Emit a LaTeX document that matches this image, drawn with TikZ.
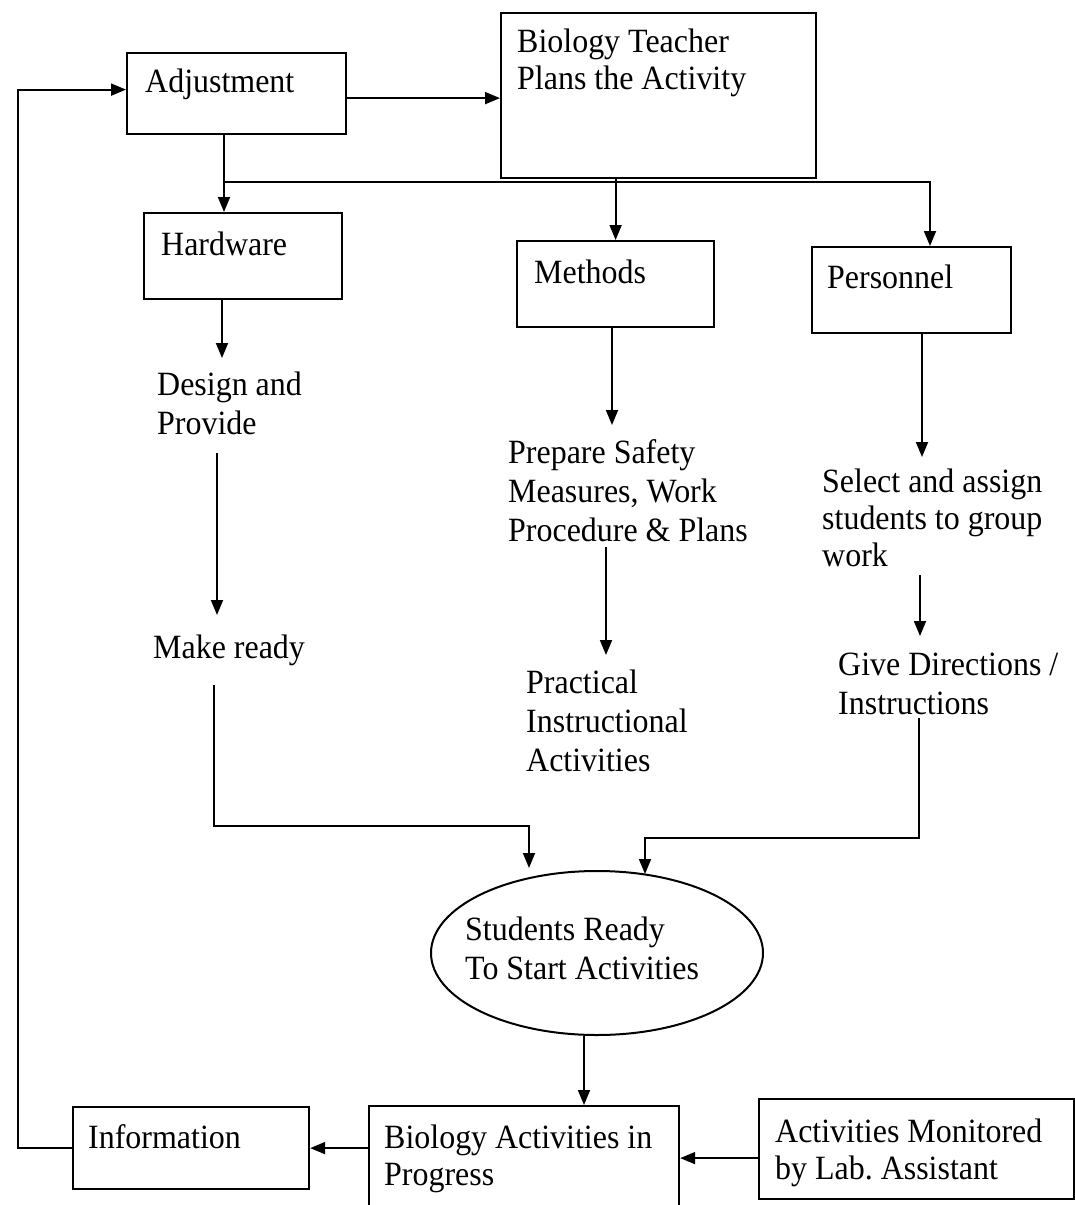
\documentclass[tikz,border=0pt]{standalone}
\usepackage{fontspec}
\setmainfont{Liberation Serif}[FakeStretch=0.94]
\usetikzlibrary{arrows.meta,shapes.geometric}
\newcommand\mlines[1]{\vtop{\halign{##\hfil\cr#1\crcr}}}
\tikzset{
  box/.style={draw, line width=2.2pt, inner sep=0pt, anchor=north west},
  txt/.style={anchor=base west, inner sep=0pt, font=\fontsize{34}{39}\selectfont},
  tight/.style={font=\fontsize{34}{37}\selectfont},
  arr/.style={line width=1.8pt, -{Triangle[length=15pt,width=12pt]}},
  ln/.style={line width=1.8pt}
}
\begin{document}
\begin{tikzpicture}[x=1pt,y=-1pt]
\fill[white] (0,0) rectangle (1075,1205);
\useasboundingbox (0,0) rectangle (1075,1205);

% boxes
\node[box, minimum width=219pt, minimum height=81pt] (adj) at (126,52) {};
\node[box, minimum width=315pt, minimum height=165pt] (teach) at (500,12) {};
\node[box, minimum width=198pt, minimum height=86pt] (hw) at (143,212) {};
\node[box, minimum width=197pt, minimum height=86pt] (meth) at (516,240) {};
\node[box, minimum width=199pt, minimum height=86pt] (pers) at (811,246) {};
\node[box, minimum width=236pt, minimum height=82pt] (info) at (72,1106) {};
\node[box, minimum width=310pt, minimum height=115pt] (bio) at (368,1105) {};
\node[box, minimum width=315pt, minimum height=100pt] (mon) at (758,1098) {};
\node[draw, line width=2pt, ellipse, minimum width=332pt, minimum height=164pt, inner sep=0pt] (ell) at (597,953) {};

% texts
\node[txt] (tadj) at (145,92) {Adjustment};
\node[txt, tight] (tteach) at (517,52) {\mlines{Biology Teacher\cr Plans the Activity}};
\node[txt] (thw) at (161,255) {Hardware};
\node[txt] (tmeth) at (534,283) {Methods};
\node[txt] (tpers) at (827,288) {Personnel};
\node[txt] (tdesign) at (157,395) {\mlines{Design and\cr Provide}};
\node[txt] (tready) at (153,658) {Make ready};
\node[txt] (tprep) at (508,463) {\mlines{Prepare Safety\cr Measures, Work\cr Procedure \& Plans}};
\node[txt] (tprac) at (526,693) {\mlines{Practical\cr Instructional\cr Activities}};
\node[txt, tight] (tsel) at (822,492) {\mlines{Select and assign\cr students to group\cr work}};
\node[txt] (tgive) at (838,675) {\mlines{Give Directions /\cr Instructions}};
\node[txt] (tstud) at (465,940) {\mlines{Students Ready\cr To Start Activities}};
\node[txt] (tinfo) at (88,1148) {Information};
\node[txt, tight] (tbio) at (384,1148) {\mlines{Biology Activities in\cr Progress}};
\node[txt, tight] (tmon) at (775,1142) {\mlines{Activities Monitored\cr by Lab.\ Assistant}};

% named coordinates
\coordinate (br) at (224,182);
\coordinate (pb) at (930,182);
\coordinate (hwA) at (222,358);
\coordinate (dpS) at (217,453);
\coordinate (mrA) at (217,615);
\coordinate (mrS) at (214,685);
\coordinate (k1) at (214,826);
\coordinate (k2) at (529,826);
\coordinate (k2A) at (529,868);
\coordinate (mA) at (612,425);
\coordinate (psS) at (606,547);
\coordinate (psA) at (606,655);
\coordinate (pA) at (922,457);
\coordinate (sgS) at (920,575);
\coordinate (sgA) at (920,636);
\coordinate (gdS) at (919,718);
\coordinate (g1) at (919,838);
\coordinate (g2) at (645,838);
\coordinate (g2A) at (645,874);
\coordinate (ec) at (584,0);
\coordinate (fb) at (18,0);
\coordinate (adjin) at ([yshift=4pt]adj.west);
\coordinate (adjout) at ([yshift=-4.5pt]adj.east);
\coordinate (monout) at ([yshift=-9pt]mon.west);

% connectors
\draw[arr] (adjout) -- (adjout -| teach.west);
\draw[arr] (adj.south -| br) -- (br |- hw.north);
\draw[arr] (br) -- (pb) -- (pb |- pers.north);
\draw[arr] (meth.north |- teach.south) -- (meth.north);
\draw[arr] (hw.south -| hwA) -- (hwA);
\draw[arr] (dpS) -- (mrA);
\draw[arr] (mrS) -- (k1) -- (k2) -- (k2A);
\draw[arr] (meth.south -| mA) -- (mA);
\draw[arr] (psS) -- (psA);
\draw[arr] (pers.south -| pA) -- (pA);
\draw[arr] (sgS) -- (sgA);
\draw[arr] (gdS) -- (g1) -- (g2) -- (g2A);
\draw[arr] (ell.south -| ec) -- (bio.north -| ec);
\draw[arr] (bio.west |- info.east) -- (info.east);
\draw[arr] (monout) -- (monout -| bio.east);
\draw[arr] (info.west) -- (info.west -| fb) -- (fb |- adjin) -- (adjin);
\end{tikzpicture}
\end{document}
